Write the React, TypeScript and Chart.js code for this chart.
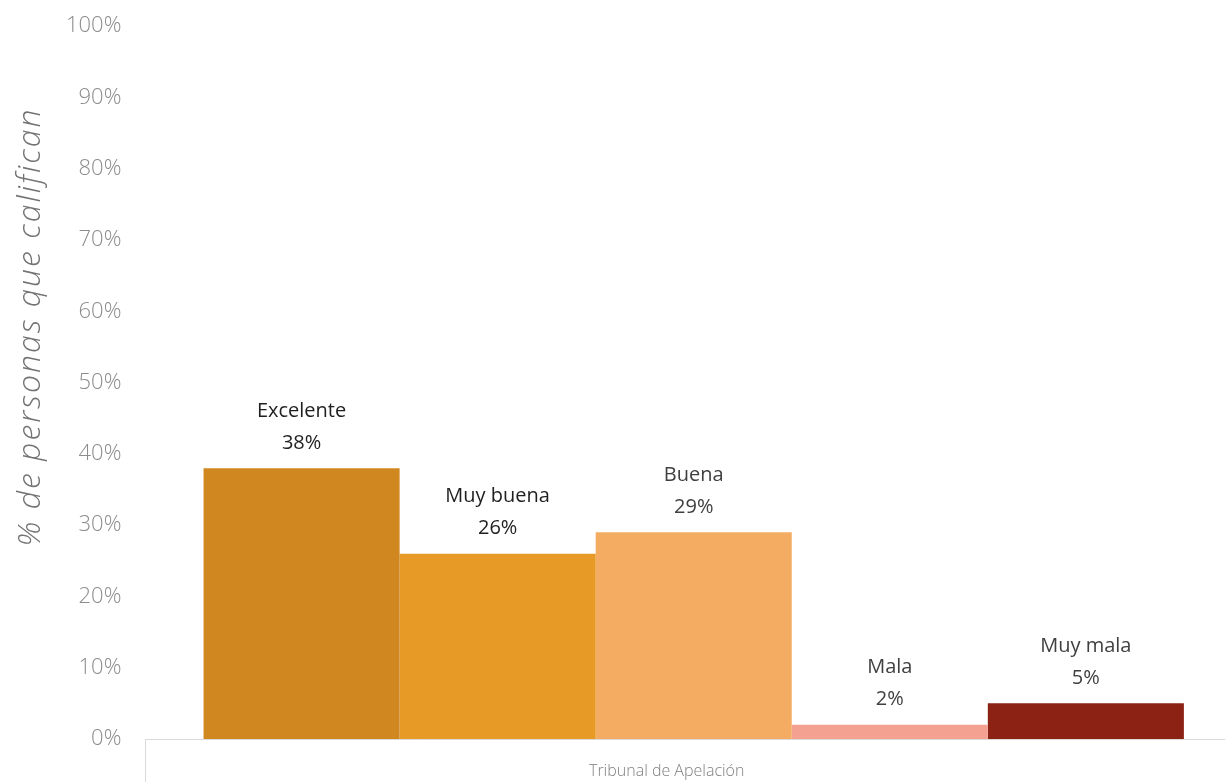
import React, { useEffect, useRef } from "react";
import { Chart, registerables } from "chart.js";

Chart.register(...registerables);

const categories = ["Tribunal de Apelación"];
const seriesNames = ["Excelente", "Muy buena", "Buena", "Mala", "Muy mala"];
const seriesValues = [38, 26, 29, 2, 5];
const seriesColors = ["#D0871F", "#E89A26", "#F4AC63", "#F4A192", "#8B2213"];
const labelColors = ["#1f1f1f", "#1f1f1f", "#404040", "#404040", "#404040"];
const yMin = 0;
const yMax = 100;
const yStep = 10;
const yTitle = "% de personas que califican";

const FONT = "'Open Sans', 'Noto Sans', sans-serif";
const SHIFT = 11;

const barLabelPlugin = {
  id: "barLabels",
  afterDatasetsDraw(chart: any) {
    const ctx = chart.ctx;
    ctx.save();
    ctx.textAlign = "center";
    ctx.textBaseline = "middle";
    ctx.font = `400 20px ${FONT}`;
    chart.data.datasets.forEach((ds: any, i: number) => {
      const meta = chart.getDatasetMeta(i);
      const el = meta.data[0];
      if (!el) return;
      ctx.fillStyle = labelColors[i];
      ctx.fillText(seriesNames[i], el.x, el.y - 57);
      ctx.fillText(`${seriesValues[i]}%`, el.x, el.y - 25);
    });
    ctx.restore();
  },
};

const yTitlePlugin = {
  id: "yTitle",
  afterDraw(chart: any) {
    const ctx = chart.ctx;
    ctx.save();
    ctx.translate(31, 327 + SHIFT);
    ctx.rotate(-Math.PI / 2);
    ctx.textAlign = "center";
    ctx.textBaseline = "middle";
    ctx.font = `italic 300 32px ${FONT}`;
    try {
      (ctx as any).letterSpacing = "2px";
    } catch (e) {}
    ctx.fillStyle = "#737373";
    ctx.fillText(yTitle, 0, 0);
    ctx.restore();
  },
};

export default function App() {
  const ref = useRef<HTMLCanvasElement | null>(null);

  useEffect(() => {
    if (!ref.current) return;
    const chart = new Chart(ref.current, {
      type: "bar",
      data: {
        labels: categories,
        datasets: seriesNames.map((name, i) => ({
          label: name,
          data: [seriesValues[i]],
          backgroundColor: seriesColors[i],
          borderWidth: 0,
          categoryPercentage: 0.894,
          barPercentage: 1.0,
        })),
      },
      options: {
        animation: false,
        responsive: false,
        maintainAspectRatio: false,
        layout: { padding: { left: 42, right: 8, top: 0, bottom: 0 } },
        plugins: {
          legend: { display: false },
          tooltip: { enabled: false },
        },
        scales: {
          x: {
            afterFit: (scale: any) => {
              scale.height = 43;
            },
            grid: {
              offset: true,
              drawOnChartArea: false,
              drawTicks: true,
              tickLength: 43,
              color: "#d9d9d9",
              lineWidth: 1,
            },
            border: { display: true, color: "#d9d9d9", width: 1 },
            ticks: {
              autoSkip: false,
              maxRotation: 0,
              padding: -20,
              labelOffset: -27,
              color: "#7f7f7f",
              font: { family: FONT, size: 16, weight: "300" },
            },
          },
          y: {
            min: yMin,
            max: yMax,
            grid: { display: false, drawTicks: false },
            border: { display: false },
            ticks: {
              stepSize: yStep,
              padding: 24,
              color: "#8c8c8c",
              font: { family: FONT, size: 22, weight: "300" },
              callback: (v: any) => `${v}%`,
            },
          },
        },
      },
      plugins: [barLabelPlugin, yTitlePlugin],
    });
    return () => chart.destroy();
  }, []);

  return (
    <div
      style={{
        position: "absolute",
        left: 0,
        top: 0,
        width: 1225,
        height: 782,
        overflow: "hidden",
        background: "#ffffff",
      }}
    >
      <canvas
        ref={ref}
        width={1250}
        height={782 + SHIFT}
        style={{ display: "block", position: "absolute", left: 0, top: -SHIFT }}
      />
    </div>
  );
}
